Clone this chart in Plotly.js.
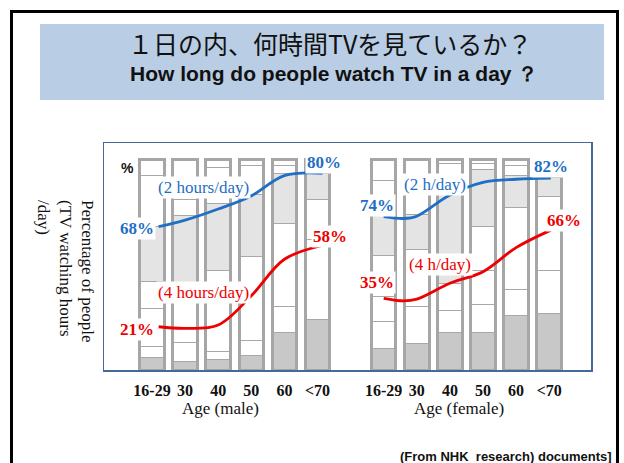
<!DOCTYPE html>
<html>
<head>
<meta charset="utf-8">
<script src="https://cdn.plot.ly/plotly-3.0.1.min.js"></script>
<style>html,body{margin:0;padding:0;background:#fff;}#chart{width:624px;height:463px;}</style>
</head>
<body>
<div id="chart"></div>
<script>
// ---- data ----
const ageLabels = ["16-29", "30", "40", "50", "60", "<70"];
const malePos = [0, 1, 2, 3, 4, 5];
const femalePos = [7, 8, 9, 10, 11, 12];

// stacked bar segment tops (% of people), male bars then female bars
const segMid   = [6, 4, 5, 7, 18, 24,   10, 12.6, 18, 18, 26, 27];
const segW1    = [11, 13, 9, 14, 30, 62,  23, 30, 28, 31, 38, 47];
const segW2    = [29, 13, 9, 14, 30, 62,  35, 30, 28, 47, 38, 47];
const segW3    = [42, 41, 47, 54, 69.5, 81,  54.5, 57, 41, 68, 77, 82];
const segLight = [68, 73, 79, 83, 93, 93,  73, 73.5, 84, 95, 92, 91];
const segW4    = [92, 81, 96, 97, 97, 97,  90, 92, 98, 98, 97, 97];
const segTop   = [100, 100, 100, 100, 100, 100, 100, 100, 100, 100, 100, 100];

// curves (2 h/day and 4 h/day)
const male2hX = [0.2, 1, 2, 3, 4, 5.15];
const male2hY = [67.9, 71, 76.3, 82.5, 92.1, 93.2];
const male4hX = [0.2, 1, 2, 3, 4, 5.15];
const male4hY = [20.5, 19.7, 21.3, 35.2, 52.5, 59];
const female2hX = [7, 7.6, 8, 9, 10, 11, 12.05];
const female2hY = [72.7, 71.8, 72.9, 82.9, 88.9, 90.4, 90.9];
const female4hX = [7, 7.6, 8, 9, 10, 11, 12.05];
const female4hY = [34, 32.8, 33.6, 41.1, 46.6, 58, 66.3];

// end labels
const maleLabels2h = ["68%", "80%"];
const maleLabels4h = ["21%", "58%"];
const femaleLabels2h = ["74%", "82%"];
const femaleLabels4h = ["35%", "66%"];

// ---- geometry helpers (pixel -> paper) ----
const L = 104, R = 591, T = 143, B = 370;
const W = R - L, H = B - T;
const px = x => (x - L) / W;
const py = y => (B - y) / H;

const BLUE = '#1f6fc4', RED = '#ee0000';
const allPos = malePos.concat(femalePos);
const tickText = ageLabels.concat(ageLabels);

const layers = [segMid, segW1, segW2, segW3, segLight, segW4, segTop];
const layerColors = ['#c8c8c8', '#ffffff', '#ffffff', '#ffffff', '#e4e4e4', '#ffffff', '#ffffff'];
const traces = [];
layers.forEach((tops, k) => {
  const prev = k === 0 ? tops.map(() => 0) : layers[k - 1];
  traces.push({
    type: 'bar', x: allPos, y: tops.map((t, i) => t - prev[i]),
    width: 0.74, marker: {color: layerColors[k], line: {color: '#a8a8a8', width: 1}},
    hoverinfo: 'skip', showlegend: false, xaxis: 'x', yaxis: 'y'
  });
});
// bar outlines
traces.push({
  type: 'bar', x: allPos, y: segTop, width: 0.74,
  marker: {color: 'rgba(0,0,0,0)', line: {color: '#a6a6a6', width: 3}},
  hoverinfo: 'skip', showlegend: false, xaxis: 'x', yaxis: 'y2'
});
function curve(x, y, c) {
  return {type: 'scatter', mode: 'lines', x: x, y: y, xaxis: 'x', yaxis: 'y2',
    line: {color: c, width: 2.8, shape: 'spline', smoothing: 1}, hoverinfo: 'skip', showlegend: false};
}
traces.push(curve(male2hX, male2hY, BLUE));
traces.push(curve(male4hX, male4hY, RED));
traces.push(curve(female2hX, female2hY, BLUE));
traces.push(curve(female4hX, female4hY, RED));

const yRange = [0, (B - T) / 2.11];
const xRange = [(L - 152) / 33.1, (R - 152) / 33.1];

function ann(text, x, y, opts) {
  return Object.assign({text: text, xref: 'paper', yref: 'paper', x: px(x), y: py(y),
    xanchor: 'center', yanchor: 'middle', showarrow: false}, opts || {});
}
const serif = 'Liberation Serif, Times New Roman, serif';
const sans = 'Liberation Sans, Arial, sans-serif';
const pctFont = c => ({family: serif, size: 17, color: c, weight: 'bold'});
const lblFont = c => ({family: serif, size: 17, color: c});

const annotations = [
  ann('１日の内、何時間TVを見ているか？', 330, 43, {font: {family: 'Noto Sans CJK JP', size: 25, color: '#111'}}),
  ann('<b>How long do people watch TV in a day ？</b>', 334, 73, {font: {family: sans, size: 21, color: '#111'}}),
  ann('Percentage of people<br>(TV watching hours<br>/day)', 66, 271, {textangle: 90, align: 'left', font: {family: serif, size: 17, color: '#111'}}),
  ann('<b>%</b>', 127, 168, {font: {family: sans, size: 14, color: '#111'}}),
  ann('Age (male)', 220, 408, {font: {family: serif, size: 17, color: '#111'}}),
  ann('Age (female)', 459, 408, {font: {family: serif, size: 17, color: '#111'}}),
  ann('<b>(From NHK  research) documents]</b>', 614, 456, {xanchor: 'right', font: {family: sans, size: 13, color: '#111'}}),
  // curve labels
  ann(maleLabels2h[0], 137, 228, {font: pctFont(BLUE), bgcolor: '#fff', borderpad: 1}),
  ann(maleLabels2h[1], 324, 162, {font: pctFont(BLUE), bgcolor: '#fff', borderpad: 1}),
  ann(maleLabels4h[0], 137, 329, {font: pctFont(RED), bgcolor: '#fff', borderpad: 1}),
  ann(maleLabels4h[1], 330, 236, {font: pctFont(RED), bgcolor: '#fff', borderpad: 1}),
  ann(femaleLabels2h[0], 377, 205, {font: pctFont(BLUE), bgcolor: '#fff', borderpad: 1}),
  ann(femaleLabels2h[1], 551, 166, {font: pctFont(BLUE), bgcolor: '#fff', borderpad: 1}),
  ann(femaleLabels4h[0], 377, 282, {font: pctFont(RED), bgcolor: '#fff', borderpad: 1}),
  ann(femaleLabels4h[1], 564, 220, {font: pctFont(RED), bgcolor: '#fff', borderpad: 1}),
  ann('(2 hours/day)', 203, 187, {font: lblFont(BLUE), bgcolor: '#fff', borderpad: 1}),
  ann('(4 hours/day)', 203, 292, {font: lblFont(RED), bgcolor: '#fff', borderpad: 1}),
  ann('(2 h/day)', 435, 184, {font: lblFont(BLUE), bgcolor: '#fff', borderpad: 1}),
  ann('(4 h/day)', 440, 264, {font: lblFont(RED), bgcolor: '#fff', borderpad: 1})
];

const shapes = [
  {type: 'rect', xref: 'paper', yref: 'paper', x0: px(40), x1: px(604), y0: py(24), y1: py(100),
   fillcolor: '#b9cde5', line: {width: 0}, layer: 'below'},
  {type: 'rect', xref: 'paper', yref: 'paper', x0: px(11.5), x1: px(617.5), y0: py(11.5), y1: py(480),
   fillcolor: 'rgba(0,0,0,0)', line: {color: '#000', width: 3}}
];

const layout = {
  width: 624, height: 463,
  margin: {l: L, r: 624 - R, t: T, b: 463 - B, pad: 0},
  paper_bgcolor: '#fff', plot_bgcolor: '#fff',
  barmode: 'stack', bargap: 0,
  showlegend: false,
  xaxis: {range: xRange, tickvals: allPos, ticktext: tickText, ticks: '', ticklabelstandoff: 5,
    tickfont: {family: serif, size: 16, color: '#111', weight: 'bold'},
    showgrid: false, zeroline: false, showline: true, mirror: true, linecolor: '#46679c', linewidth: 1.5, fixedrange: true},
  yaxis: {range: yRange, showticklabels: false, ticks: '', showgrid: false, zeroline: false,
    showline: true, mirror: true, linecolor: '#46679c', linewidth: 1.5, fixedrange: true},
  yaxis2: {range: yRange, overlaying: 'y', visible: false, fixedrange: true},
  annotations: annotations,
  shapes: shapes
};

Plotly.newPlot('chart', traces, layout, {displayModeBar: false, staticPlot: true});
</script>
</body>
</html>
